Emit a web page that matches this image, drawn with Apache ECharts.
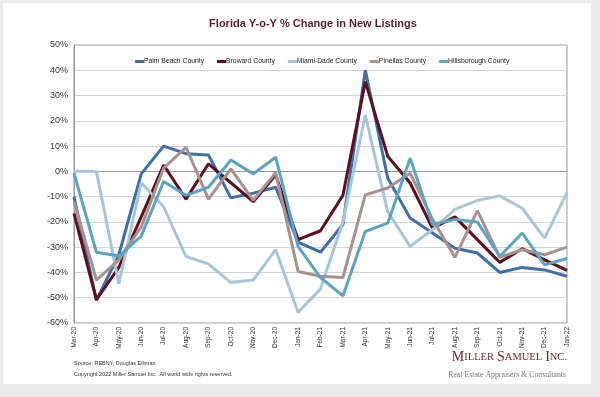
<!DOCTYPE html>
<html>
<head>
<meta charset="utf-8">
<script src="https://cdn.jsdelivr.net/npm/echarts@6/dist/echarts.min.js"></script>
<style>
  html, body { margin: 0; padding: 0; background: #ececec; }
  #chart { width: 600px; height: 397px; }
</style>
</head>
<body>
<div id="chart"></div>
<script>
// months on the x axis
const months = ["Mar-20", "Apr-20", "May-20", "Jun-20", "Jul-20", "Aug-20", "Sep-20", "Oct-20",
  "Nov-20", "Dec-20", "Jan-21", "Feb-21", "Mar-21", "Apr-21", "May-21", "Jun-21", "Jul-21",
  "Aug-21", "Sep-21", "Oct-21", "Nov-21", "Dec-21", "Jan-22"];

// y-o-y % change
const palmBeach = [-10, -51, -33, -1, 10, 7, 6.5, -10.5, -8.6, -6.3, -28, -32, -21, 40, -2.6, -18.5, -24.4, -30.4, -32.3, -40, -38, -39, -41.5];
const broward = [-16.6, -50.8, -38, -18, 2.5, -11, 3, -4.5, -12, -1.4, -27, -23.5, -9.5, 35.5, 6, -4.6, -22.5, -18, -27, -36, -30.6, -35, -39.2];
const miamiDade = [0, 0, -44.5, -4.5, -14, -33.7, -36.6, -44, -43, -31, -55.8, -46.5, -20, 22.3, -16, -29.7, -23, -15, -11.5, -9.7, -14.6, -26.4, -8.4];
const pinellas = [-12, -43, -35, -22, 1.3, 9.5, -11, 1, -11.5, -0.5, -39.6, -41.5, -42, -9.3, -6.6, -0.7, -19, -34, -15.5, -34, -31, -33, -30];
const hillsborough = [-0.7, -32, -33.5, -25.6, -4, -9.5, -6.3, 4.5, -1, 5.6, -29.7, -42, -49.3, -23.8, -20.5, 5.2, -21, -19, -20, -33.7, -24.4, -37, -34.5];

const seriesNames = ["Palm Beach County", "Broward County", "Miami-Dade County", "Pinellas County", "Hillsborough County"];
const seriesColors = ["#3f6fa6", "#5b0f1f", "#a9c5d9", "#a8918f", "#5ba5c2"];
const seriesData = [palmBeach, broward, miamiDade, pinellas, hillsborough];

const chart = echarts.init(document.getElementById("chart"), null, { renderer: "canvas" });

const option = {
  backgroundColor: "#ececec",
  animation: false,
  color: seriesColors,
  title: {
    text: "Florida Y-o-Y % Change in New Listings",
    left: 308,
    textAlign: "center",
    top: 13,
    textStyle: {
      color: "#5a1a2c",
      fontSize: 11,
      fontWeight: "bold",
      fontFamily: "Liberation Sans"
    }
  },
  legend: {
    top: 53,
    left: 130,
    width: 440,
    orient: "horizontal",
    icon: "rect",
    itemWidth: 9,
    itemHeight: 3,
    itemGap: 13,
    textStyle: { fontSize: 6.8, color: "#222", fontFamily: "Liberation Sans", padding: [0, 0, 0, -5] },
    data: seriesNames
  },
  grid: {
    left: 74,
    right: 33,
    top: 45,
    bottom: 74,
    show: true,
    borderColor: "#999",
    borderWidth: 1
  },
  xAxis: {
    type: "category",
    data: months,
    boundaryGap: false,
    axisLine: { lineStyle: { color: "#999" } },
    axisTick: { show: false },
    axisLabel: {
      rotate: 90,
      fontSize: 6.5,
      color: "#333",
      fontFamily: "Liberation Sans",
      interval: 0,
      margin: 4
    },
    splitLine: { show: false }
  },
  yAxis: {
    type: "value",
    min: -60,
    max: 50,
    interval: 10,
    axisLine: { show: true, lineStyle: { color: "#999" } },
    axisTick: { show: false },
    axisLabel: {
      formatter: "{value}%",
      fontSize: 9,
      color: "#333",
      fontFamily: "Liberation Sans",
      margin: 6
    },
    splitLine: { lineStyle: { color: "#d4d4d4", width: 1 } }
  },
  series: seriesNames.map((name, i) => ({
    name: name,
    type: "line",
    data: seriesData[i],
    symbol: "none",
    lineStyle: { width: 3, color: seriesColors[i] },
    itemStyle: { color: seriesColors[i] },
    z: 2
  })),
  graphic: [
    {
      type: "rect",
      z: -10,
      silent: true,
      shape: { x: 3, y: 3, width: 588, height: 381 },
      style: { fill: "#ffffff" }
    },
    {
      type: "text",
      left: 74,
      top: 360,
      style: {
        text: "Source: REBNY, Douglas Elliman",
        fontSize: 5.5,
        fill: "#333",
        fontFamily: "Liberation Sans"
      }
    },
    {
      type: "text",
      left: 74,
      top: 371,
      style: {
        text: "Copyright 2022 Miller Samuel Inc.  All world wide rights reserved.",
        fontSize: 5.5,
        fill: "#333",
        fontFamily: "Liberation Sans"
      }
    },
    {
      type: "text",
      right: 33,
      top: 350,
      style: {
        text: "{b|M}{s|ILLER} {b|S}{s|AMUEL} {b|I}{s|NC.}",
        fill: "#6a1f2e",
        fontFamily: "Liberation Serif",
        rich: {
          b: { fontSize: 14, fill: "#6a1f2e", fontFamily: "Liberation Serif" },
          s: { fontSize: 10.5, fill: "#6a1f2e", fontFamily: "Liberation Serif" }
        }
      }
    },
    {
      type: "text",
      right: 34,
      top: 371,
      style: {
        text: "Real Estate Appraisers & Consultants",
        fontSize: 7.8,
        fill: "#777",
        fontFamily: "Liberation Serif"
      }
    }
  ]
};

chart.setOption(option);
</script>
</body>
</html>
